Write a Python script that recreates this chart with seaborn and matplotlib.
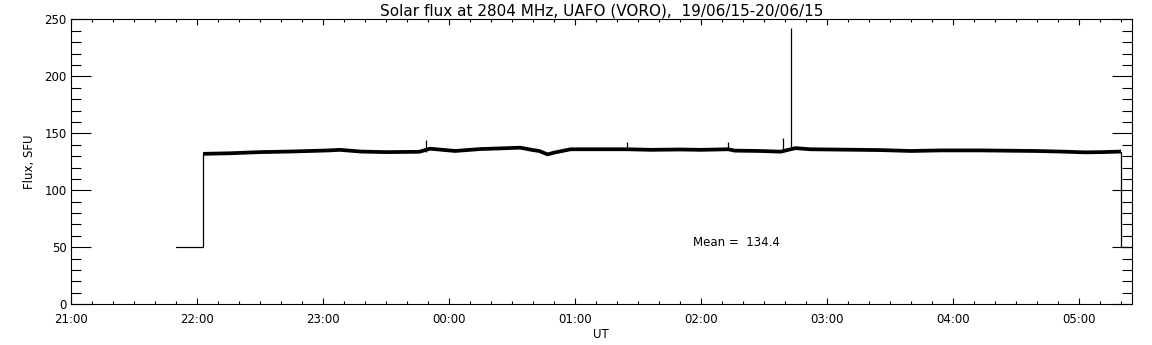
import matplotlib
matplotlib.use('Agg')
import numpy as np
import pandas as pd
import matplotlib.pyplot as plt
from matplotlib.ticker import MultipleLocator, FixedLocator
import seaborn as sns

# ---- données (UT, flux en SFU) ----
title = 'Solar flux at 2804 MHz, UAFO (VORO),  19/06/15-20/06/15'
mean_flux = 134.4

off_level = 50
off_times = ['21:50', '22:03']          # niveau 50 avant le début
end_times = ['05:20', '05:25']          # niveau 50 après la fin

base_times = ['22:03', '22:16', '22:30', '22:44', '22:54', '23:03', '23:08', '23:18',
              '23:30', '23:46', '23:51', '00:03', '00:15', '00:25', '00:34', '00:40',
              '00:43', '00:47', '00:50', '00:58', '01:12', '01:25', '01:36', '01:50',
              '02:00', '02:13', '02:16', '02:28', '02:38', '02:45', '02:52', '03:11',
              '03:25', '03:40', '03:54', '04:13', '04:39', '04:51', '05:03', '05:11',
              '05:20']
base_flux = [132.0, 132.5, 133.5, 134.0, 134.5, 135.0, 135.5, 134.0,
             133.5, 133.8, 136.5, 134.5, 136.2, 136.8, 137.4, 135.3,
             134.5, 131.5, 133.0, 136.0, 136.0, 136.0, 135.5, 135.8,
             135.5, 136.0, 134.8, 134.5, 133.9, 137.0, 136.0, 135.6,
             135.3, 134.5, 135.0, 135.0, 134.5, 134.0, 133.3, 133.5,
             134.0]

spike_times = ['23:49', '01:25', '02:13', '02:39', '02:43']
spike_base = [134.0, 136.0, 136.0, 133.9, 135.0]
spike_peak = [144.0, 142.6, 142.6, 146.0, 242.0]

hour_labels = ['21:00', '22:00', '23:00', '00:00', '01:00', '02:00', '03:00', '04:00', '05:00']


def to_hours(s):
    """Heures écoulées depuis 21:00 UT"""
    h, m = map(int, s.split(':'))
    return (h - 21) % 24 + m / 60.0


base_df = pd.DataFrame({'t': [to_hours(s) for s in base_times], 'flux': base_flux})
step_df = pd.DataFrame({
    't': [to_hours(off_times[0]), to_hours(off_times[1]), to_hours(off_times[1]), np.nan,
          to_hours(end_times[0]), to_hours(end_times[0]), to_hours(end_times[1])],
    'flux': [off_level, off_level, base_flux[0], np.nan,
             base_flux[-1], off_level, off_level],
})

sns.set_style('white')
plt.rcParams['font.family'] = ['DejaVu Sans']
plt.rcParams['text.color'] = 'black'
plt.rcParams['axes.labelcolor'] = 'black'
plt.rcParams['xtick.color'] = 'black'
plt.rcParams['ytick.color'] = 'black'

fig = plt.figure(figsize=(11.52, 3.45), dpi=100)
ax = fig.add_axes([0.0614, 0.118, 0.9210, 0.826])

# bande bruitée
sns.lineplot(data=base_df, x='t', y='flux', ax=ax, color='black', lw=2.7,
             estimator=None, sort=False, solid_capstyle='butt')
# marches au début / fin
ax.plot(step_df['t'], step_df['flux'], color='black', lw=0.9)
# pics
ax.vlines([to_hours(s) for s in spike_times], spike_base, spike_peak,
          color='black', lw=0.9)

ax.text(4.937, 53.8, f'Mean =  {mean_flux}', fontsize=8.5, va='center', ha='left')

ax.set_xlim(0, 8.418)
ax.set_ylim(0, 250)
ax.xaxis.set_major_locator(FixedLocator(range(len(hour_labels))))
ax.set_xticklabels(hour_labels)
ax.xaxis.set_minor_locator(MultipleLocator(1 / 6))
ax.yaxis.set_major_locator(MultipleLocator(50))
ax.yaxis.set_minor_locator(MultipleLocator(10))

ax.tick_params(axis='y', which='major', direction='in', length=14.4, width=0.8,
               left=True, right=True, labelsize=8.5, pad=3)
ax.tick_params(axis='y', which='minor', direction='in', length=7.2, width=0.8,
               left=True, right=True)
ax.tick_params(axis='x', which='major', direction='in', length=4.0, width=0.8,
               bottom=True, top=True, labelsize=8.5, pad=6)
ax.tick_params(axis='x', which='minor', direction='in', length=2.0, width=0.8,
               bottom=True, top=True)

for sp in ax.spines.values():
    sp.set_color('black')
    sp.set_linewidth(0.8)

ax.set_title(title, fontsize=11, pad=3)
ax.set_xlabel('UT', fontsize=8.5, labelpad=2)
ax.set_ylabel('Flux, SFU', fontsize=8.5, labelpad=6)

fig.savefig('out.png', dpi=100, facecolor='white')
